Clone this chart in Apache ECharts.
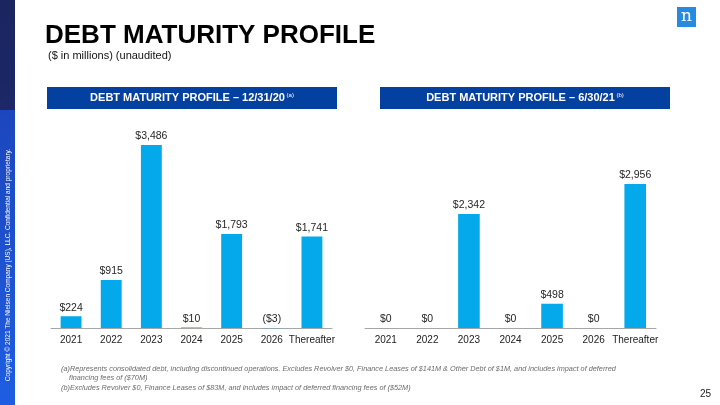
<!DOCTYPE html>
<html>
<head>
<meta charset="utf-8">
<script src="https://cdn.jsdelivr.net/npm/echarts@6/dist/echarts.min.js"></script>
<style>
html,body{margin:0;padding:0;background:#fff;}
#chart{width:720px;height:405px;}
</style>
</head>
<body>
<div id="chart"></div>
<script>
const categories = ['2021', '2022', '2023', '2024', '2025', '2026', 'Thereafter'];
const debt123120 = [224, 915, 3486, 10, 1793, -3, 1741];
const debt63021 = [0, 0, 2342, 0, 498, 0, 2956];

const titleText = 'DEBT MATURITY PROFILE';
const subtitleText = '($ in millions) (unaudited)';
const leftHeader = 'DEBT MATURITY PROFILE – 12/31/20';
const rightHeader = 'DEBT MATURITY PROFILE – 6/30/21';
const footnotes = [
  '(a)Represents consolidated debt, including discontinued operations. Excludes Revolver $0, Finance Leases of $141M & Other Debt of $1M, and includes impact of deferred',
  '    financing fees of ($70M)',
  '(b)Excludes Revolver $0, Finance Leases of $83M, and includes impact of deferred financing fees of ($52M)'
];
const copyrightText = 'Copyright © 2021 The Nielsen Company (US), LLC. Confidential and proprietary.';
const pageNumber = '25';

const FONT = '"Liberation Sans", Arial, sans-serif';
const NARROW = '"Liberation Sans Narrow", "Arial Narrow", "Liberation Sans", Arial, sans-serif';
const BAR = '#03a9ea';
const HEAD = '#0340a0';

function money(v) {
  const s = Math.abs(v).toLocaleString('en-US');
  return v < 0 ? '($' + s + ')' : '$' + s;
}

const chart = echarts.init(document.getElementById('chart'), null, {renderer: 'canvas'});

function xAx(gi) {
  return {
    type: 'category', gridIndex: gi, data: categories,
    axisLine: {lineStyle: {color: '#a6a6a6', width: 1}},
    axisTick: {show: false},
    axisLabel: {color: '#222', fontSize: 10, fontFamily: FONT, margin: 7, interval: 0}
  };
}
function yAx(gi) {
  return {
    type: 'value', gridIndex: gi, min: 0, max: 'dataMax',
    show: false, splitLine: {show: false}
  };
}
function barSeries(gi, data) {
  return {
    type: 'bar', xAxisIndex: gi, yAxisIndex: gi, data: data,
    barWidth: '52%', clip: false,
    itemStyle: {color: BAR},
    label: {
      show: true, position: 'top', distance: 3,
      color: '#262626', fontSize: 10.5, fontFamily: FONT,
      formatter: p => money(p.value)
    }
  };
}

const option = {
  animation: false,
  backgroundColor: '#fff',
  grid: [
    {left: 51, width: 281, top: 145, height: 183},
    {left: 365, width: 291, top: 184, height: 144}
  ],
  xAxis: [xAx(0), xAx(1)],
  yAxis: [yAx(0), yAx(1)],
  series: [barSeries(0, debt123120), barSeries(1, debt63021)],
  graphic: [
    // left sidebar
    {type: 'rect', left: 0, top: 0, shape: {width: 15, height: 405},
      style: {fill: new echarts.graphic.LinearGradient(0, 0, 0, 1, [{offset: 0, color: '#1b2560'}, {offset: 1, color: '#1d2f7a'}])}, z: 1},
    {type: 'rect', left: 0, top: 110, shape: {width: 15, height: 295},
      style: {fill: new echarts.graphic.LinearGradient(0, 0, 0, 1, [{offset: 0, color: '#1c46bd'}, {offset: 1, color: '#1e5de2'}])}, z: 2},
    {type: 'text', x: 8, y: 265, rotation: Math.PI / 2, z: 3,
      style: {text: copyrightText, fill: '#ffffff', font: '6.5px ' + FONT, textAlign: 'center', textVerticalAlign: 'middle'}},
    // title
    {type: 'text', left: 45, top: 23, z: 3,
      style: {text: titleText, fill: '#000', font: 'bold 26px ' + FONT}},
    {type: 'text', left: 48, top: 50, z: 3,
      style: {text: subtitleText, fill: '#111', font: '11px ' + FONT}},
    // logo
    {type: 'rect', left: 677, top: 7, shape: {width: 19, height: 20}, style: {fill: '#268be0'}, z: 3},
    {type: 'text', x: 686.5, y: 17, z: 4,
      style: {text: 'n', fill: '#fff', font: '17px "DejaVu Serif", "Liberation Serif", serif', textAlign: 'center', textVerticalAlign: 'middle'}},
    // headers
    {type: 'rect', left: 47, top: 87, shape: {width: 290, height: 22}, style: {fill: HEAD}, z: 3},
    {type: 'rect', left: 380, top: 87, shape: {width: 290, height: 22}, style: {fill: HEAD}, z: 3},
    {type: 'text', x: 192, y: 98, z: 4,
      style: {text: '{m|' + leftHeader + '}{s| (a)}', textAlign: 'center', textVerticalAlign: 'middle',
        rich: {m: {fill: '#fff', font: 'bold 11px ' + NARROW}, s: {fill: '#fff', font: '6px ' + FONT, padding: [0, 0, 6, 0]}}}},
    {type: 'text', x: 525, y: 98, z: 4,
      style: {text: '{m|' + rightHeader + '}{s| (b)}', textAlign: 'center', textVerticalAlign: 'middle',
        rich: {m: {fill: '#fff', font: 'bold 11px ' + NARROW}, s: {fill: '#fff', font: '6px ' + FONT, padding: [0, 0, 6, 0]}}}},
    // footnotes
    {type: 'text', left: 61, top: 365, z: 3,
      style: {text: footnotes[0], fill: '#6b6b6b', font: 'italic 7.3px ' + FONT}},
    {type: 'text', left: 61, top: 374, z: 3,
      style: {text: footnotes[1], fill: '#6b6b6b', font: 'italic 7.3px ' + FONT}},
    {type: 'text', left: 61, top: 384, z: 3,
      style: {text: footnotes[2], fill: '#6b6b6b', font: 'italic 7.3px ' + FONT}},
    {type: 'text', left: 700, top: 389, z: 3,
      style: {text: pageNumber, fill: '#222', font: '10px ' + NARROW}}
  ]
};
chart.setOption(option);
</script>
</body>
</html>
